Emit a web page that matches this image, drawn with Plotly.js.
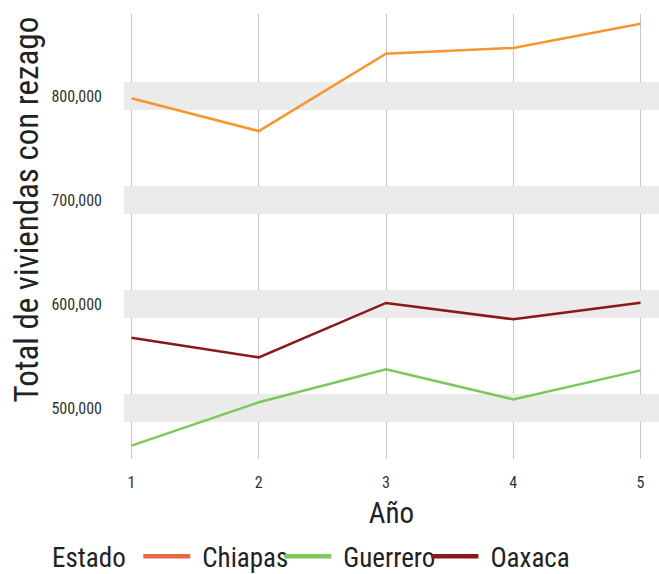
<!DOCTYPE html>
<html>
<head>
<meta charset="utf-8">
<script src="https://cdn.plot.ly/plotly-3.0.1.min.js"></script>
<style>html,body{margin:0;padding:0;background:#fff;}#chart{width:659px;height:574px;} text{font-stretch:condensed;}</style>
</head>
<body>
<div id="chart"></div>
<script>
var years = [1, 2, 3, 4, 5];
var chiapas = [797800, 766300, 840700, 846200, 869500];
var guerrero = [463800, 505500, 537200, 508300, 536200];
var oaxaca = [567600, 548700, 601000, 585300, 601300];
var seriesNames = ['Chiapas', 'Guerrero', 'Oaxaca'];
var lineColors = ['#F7962F', '#7DC75B', '#8A1818'];
var legendColors = ['#E8694A', '#7DC75B', '#8A1818'];
var yTicks = [500000, 600000, 700000, 800000];
var yTickLabels = ['500,000', '600,000', '700,000', '800,000'];
var xTickLabels = ['1', '2', '3', '4', '5'];
var legendTitle = 'Estado';

var FONT = '"Roboto Condensed", "DejaVu Sans Condensed", "Liberation Sans Narrow", Roboto, sans-serif';
var NB = '\u00a0';
var seriesData = [chiapas, guerrero, oaxaca];
var traces = [];
seriesData.forEach(function (vals, i) {
  traces.push({
    x: years, y: vals, type: 'scatter', mode: 'lines',
    name: seriesNames[i], showlegend: false,
    line: {color: lineColors[i], width: 2.5}, hoverinfo: 'skip'
  });
});
seriesData.forEach(function (vals, i) {
  traces.push({
    x: [null], y: [null], type: 'scatter', mode: 'lines',
    name: seriesNames[i], showlegend: true,
    line: {color: legendColors[i], width: 4.5}
  });
});

var layout = {
  width: 659, height: 574,
  paper_bgcolor: '#fff', plot_bgcolor: '#fff',
  margin: {l: 124, r: 0, t: 14, b: 115, autoexpand: false},
  font: {family: FONT, color: '#222'},
  xaxis: {
    range: [0.941, 5.145], tickvals: years, ticktext: xTickLabels,
    showgrid: true, gridcolor: '#C8C8C8', gridwidth: 1,
    zeroline: false, showline: false, ticks: '',
    ticklabelstandoff: 12,
    tickfont: {family: FONT, size: 16, color: '#333'},
    title: {text: 'Año', font: {family: FONT, size: 29, color: '#222'}, standoff: 11}
  },
  yaxis: {
    range: [450962, 878846], tickvals: yTicks, ticktext: yTickLabels,
    showgrid: true, gridcolor: '#EBEBEB', gridwidth: 28,
    zeroline: false, showline: false, ticks: '',
    ticklabelstandoff: 21,
    tickfont: {family: FONT, size: 16, color: '#333'},
    title: {text: ''}
  },
  annotations: [{
    text: 'Total de viviendas con rezago', xref: 'paper', yref: 'paper',
    x: -0.182, y: 0.56, xanchor: 'center', yanchor: 'middle', textangle: -90,
    showarrow: false, font: {family: FONT, size: 33, color: '#222'}
  }],
  showlegend: true,
  legend: {
    orientation: 'h', xref: 'container', x: 0.076, xanchor: 'left',
    yref: 'container', y: 0.03, yanchor: 'middle',
    title: {text: legendTitle + NB.repeat(3), font: {family: FONT, size: 27, color: '#222'}},
    font: {family: FONT, size: 27, color: '#222'},
    bgcolor: 'rgba(0,0,0,0)', itemwidth: 40
  }
};

Plotly.newPlot('chart', traces, layout, {displayModeBar: false, staticPlot: true}).then(function (gd) {
  // lengthen the legend swatches to match the reference key glyphs
  var paths = gd.querySelectorAll('.legend .legendlines path');
  paths.forEach(function (p) { p.setAttribute('d', 'M-9,0h47'); });
});
</script>
</body>
</html>
